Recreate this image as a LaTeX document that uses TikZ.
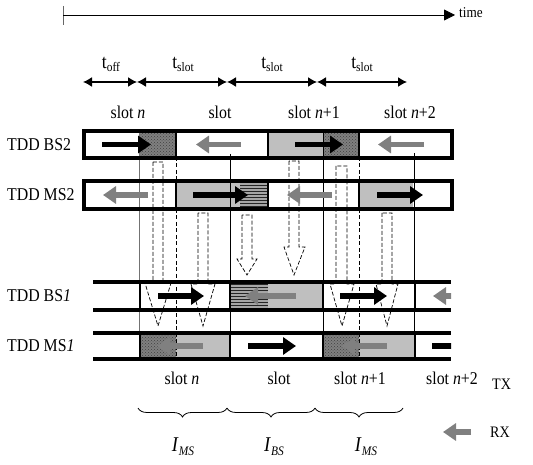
\documentclass[tikz,border=0pt]{standalone}
\usepackage{fontspec}
\setmainfont[FakeStretch=0.88]{Liberation Serif}
\usetikzlibrary{arrows.meta,patterns,decorations.pathreplacing}
\begin{document}
\begin{tikzpicture}[x=1pt,y=-1pt,
  border/.style={line width=3.2pt},
  divider/.style={line width=2.6pt},
  lightfill/.style={fill=black!25},
  darkfill/.style={fill=black!50},
  stripefill/.style={fill=black!35},
  blkarrow/.style={line width=5.5pt,black,-{Triangle[length=13pt,width=17pt]}},
  gryarrow/.style={line width=5.5pt,black!50,-{Triangle[length=13pt,width=17pt]}},
  ghost/.style={dashed,dash pattern=on 4pt off 2pt,line width=0.7pt},
  guide/.style={line width=0.7pt},
  tarrow/.style={line width=1.4pt,{Latex[length=9pt,width=10pt]}-{Latex[length=9pt,width=10pt]}},
  lab/.style={font=\fontsize{18}{20}\selectfont,inner sep=0pt},
  rowlab/.style={font=\fontsize{18}{20}\selectfont,inner sep=0pt,anchor=west},
  brc/.style={decorate,decoration={brace,mirror,amplitude=9pt},line width=0.8pt}
]
\useasboundingbox (0,0) rectangle (533,465);

% time axis
\coordinate (t0) at (63,15);
\coordinate (t1) at (455,15);
\draw[line width=0.8pt,black!60] (63,6) -- (63,25);
\draw[line width=0.8pt,-{Triangle[length=11pt,width=11pt]}] (t0) -- (t1);
\node[font=\fontsize{15}{17}\selectfont,anchor=west,inner sep=0pt] (time) at (459,13) {time};

% duration arrows
\coordinate (d0) at (83,82);
\coordinate (d1) at (137,82);
\coordinate (d2) at (227,82);
\coordinate (d3) at (317,82);
\coordinate (d4) at (407,82);
\draw[tarrow] (d0) -- (d1);
\draw[tarrow] (d1) -- (d2);
\draw[tarrow] (d2) -- (d3);
\draw[tarrow] (d3) -- (d4);
\node[inner sep=0pt] (toff) at (111,64) {\fontsize{20}{22}\selectfont t\raisebox{-3pt}{\fontsize{13}{14}\selectfont off}};
\node[inner sep=0pt] (ts1) at (183,64) {\fontsize{20}{22}\selectfont t\raisebox{-3pt}{\fontsize{13}{14}\selectfont slot}};
\node[inner sep=0pt] (ts2) at (272,64) {\fontsize{20}{22}\selectfont t\raisebox{-3pt}{\fontsize{13}{14}\selectfont slot}};
\node[inner sep=0pt] (ts3) at (362,64) {\fontsize{20}{22}\selectfont t\raisebox{-3pt}{\fontsize{13}{14}\selectfont slot}};

% top slot labels
\node[lab] (sa) at (128,112) {slot \textit{n}};
\node[lab] (sb) at (220,112) {slot};
\node[lab] (sc) at (314,112) {slot \textit{n}+1};
\node[lab] (sd) at (410,112) {slot \textit{n}+2};

% row labels
\node[rowlab] (lbs2) at (7,144.5) {TDD BS2};
\node[rowlab] (lms2) at (7,195) {TDD MS2};
\node[rowlab] (lbs1) at (7,296) {TDD BS\textit{1}};
\node[rowlab] (lms1) at (7,346) {TDD MS\textit{1}};

% ---------- fills ----------
% BS2
\fill[darkfill] (139,131) rectangle (176,158);
\fill[pattern=crosshatch dots,pattern color=black!75] (139,131) rectangle (176,158);
\fill[lightfill] (268,131) rectangle (323,158);
\fill[darkfill] (323,131) rectangle (359,158);
\fill[pattern=crosshatch dots,pattern color=black!75] (323,131) rectangle (359,158);
% MS2
\fill[lightfill] (176,181) rectangle (240,209);
\fill[stripefill] (240,181) rectangle (268,209);
\fill[pattern=horizontal lines,pattern color=black!85] (240,181) rectangle (268,209);
\fill[lightfill] (359,181) rectangle (413,209);
% BS1
\fill[stripefill] (230,282) rectangle (268,310);
\fill[pattern=horizontal lines,pattern color=black!85] (230,282) rectangle (268,310);
\fill[lightfill] (268,282) rectangle (323,310);
% MS1
\fill[darkfill] (140,333) rectangle (176,359);
\fill[pattern=crosshatch dots,pattern color=black!75] (140,333) rectangle (176,359);
\fill[lightfill] (176,333) rectangle (230,359);
\fill[darkfill] (323,333) rectangle (359,359);
\fill[pattern=crosshatch dots,pattern color=black!75] (323,333) rectangle (359,359);
\fill[lightfill] (359,333) rectangle (415,359);

% ---------- guide lines ----------
\draw[guide,black!55] (139,131) -- (139,359);
\draw[guide,dashed,dash pattern=on 4pt off 2.5pt] (176,131) -- (176,359);
\draw[guide] (230,154) -- (230,359);
\draw[guide] (323,131) -- (323,359);
\draw[guide,dashed,dash pattern=on 4pt off 2.5pt] (359,131) -- (359,359);
\draw[guide] (414,153) -- (414,359);

% ---------- interference (hollow dashed) arrows ----------
\draw[ghost] (153,162) -- (153,283) -- (145,283) -- (158,326) -- (171,283) -- (163,283) -- (163,162) -- cycle;
\draw[ghost] (198,213) -- (198,284) -- (191,284) -- (203,326) -- (215,284) -- (208,284) -- (208,213) -- cycle;
\draw[ghost] (242,215) -- (242,259) -- (237,259) -- (247,275) -- (257,259) -- (252,259) -- (252,215) -- cycle;
\draw[ghost] (289,161) -- (289,247) -- (284,247) -- (294,275) -- (305,247) -- (299,247) -- (299,161) -- cycle;
\draw[ghost] (336,166) -- (336,284) -- (330,284) -- (342,326) -- (354,284) -- (347,284) -- (347,166) -- cycle;
\draw[ghost] (382,213) -- (382,284) -- (376,284) -- (387,326) -- (398,284) -- (392,284) -- (392,213) -- cycle;

% ---------- block arrows ----------
% BS2
\draw[blkarrow] (102,144.5) -- (151,144.5);
\draw[gryarrow] (241,144.5) -- (196,144.5);
\draw[blkarrow] (295,144.5) -- (343,144.5);
\draw[gryarrow] (424,144.5) -- (378,144.5);
% MS2
\draw[gryarrow] (148,195) -- (103,195);
\draw[blkarrow] (193,195) -- (248,195);
\draw[gryarrow] (332,195) -- (287,195);
\draw[blkarrow] (377,195) -- (423,195);
% BS1
\draw[blkarrow] (158,296) -- (204,296);
\draw[gryarrow] (296,296) -- (245,296);
\draw[blkarrow] (340,296) -- (387,296);
\begin{scope}
\clip (415,280) rectangle (451,362);
\draw[gryarrow] (470,296) -- (433,296);
\draw[blkarrow] (432,346) -- (480,346);
\end{scope}
% MS1
\draw[gryarrow] (203,346) -- (157,346);
\draw[blkarrow] (248,346) -- (296,346);
\draw[gryarrow] (387,346) -- (342,346);

% ---------- borders ----------
\draw[border] (84,131) rectangle (452,158);
\draw[divider] (176,131) -- (176,158);
\draw[divider] (268,131) -- (268,158);
\draw[divider] (359,131) -- (359,158);
\draw[border] (84,181) rectangle (452,209);
\draw[divider] (176,181) -- (176,209);
\draw[divider] (268,181) -- (268,209);
\draw[divider] (359,181) -- (359,209);
% BS1
\draw[border] (93,282) -- (451,282);
\draw[border] (93,310) -- (451,310);
\foreach \x in {140,230,323,415} \draw[divider] (\x,282) -- (\x,310);
% MS1
\draw[border] (93,333) -- (451,333);
\draw[border] (93,359) -- (451,359);
\foreach \x in {140,230,323,415} \draw[divider] (\x,333) -- (\x,359);

% bottom slot labels
\node[lab] (ba) at (182,378) {slot \textit{n}};
\node[lab] (bb) at (279,378) {slot};
\node[lab] (bc) at (360,378) {slot \textit{n}+1};
\node[lab] (bd) at (452,378) {slot \textit{n}+2};
\node[font=\fontsize{16}{18}\selectfont,anchor=west,inner sep=0pt] (tx) at (492,384) {TX};

% braces
\coordinate (b0) at (138,408);
\coordinate (b1) at (227,408);
\coordinate (b2) at (315,408);
\coordinate (b3) at (403,408);
\draw[brc] (b0) -- (b1);
\draw[brc] (b1) -- (b2);
\draw[brc] (b2) -- (b3);
\node[inner sep=0pt] (ims1) at (183,447) {\fontsize{21}{22}\selectfont\textit{I}\raisebox{-4pt}{\fontsize{13}{14}\selectfont\textit{MS}}};
\node[inner sep=0pt] (ibs) at (274,447) {\fontsize{21}{22}\selectfont\textit{I}\raisebox{-4pt}{\fontsize{13}{14}\selectfont\textit{BS}}};
\node[inner sep=0pt] (ims2) at (366,447) {\fontsize{21}{22}\selectfont\textit{I}\raisebox{-4pt}{\fontsize{13}{14}\selectfont\textit{MS}}};

% RX legend
\coordinate (rx0) at (471,432);
\coordinate (rx1) at (443,432);
\draw[gryarrow] (rx0) -- (rx1);
\node[font=\fontsize{16}{18}\selectfont,anchor=west,inner sep=0pt] (rx) at (490,432) {RX};
\end{tikzpicture}
\end{document}
